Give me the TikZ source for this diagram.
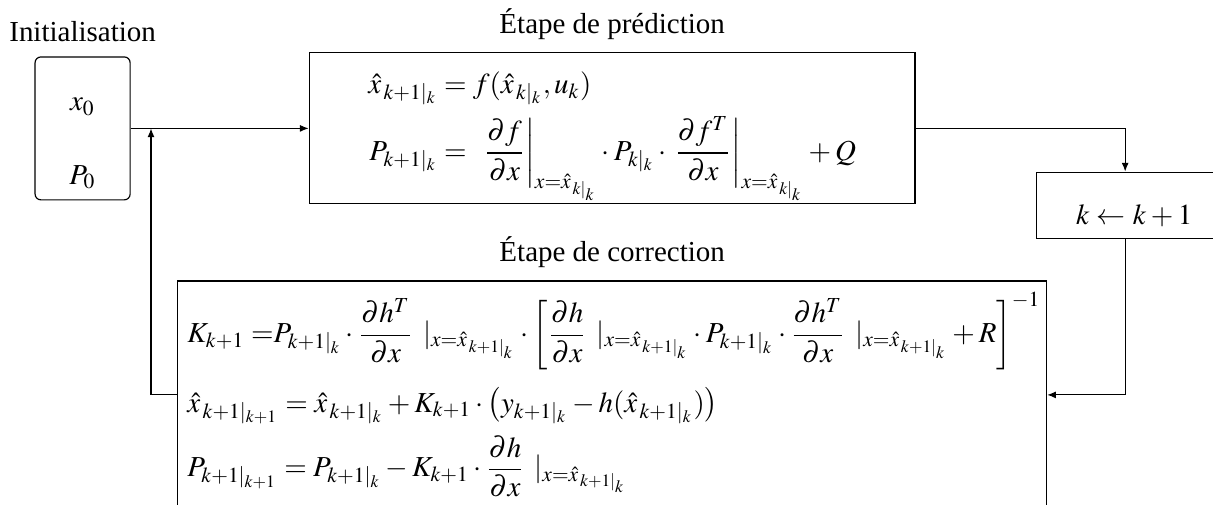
\documentclass[tikz,border=0pt]{standalone}
\usepackage{amsmath}
\usepackage{mathptmx}
\usepackage[no-math]{fontspec}
\setmainfont{Liberation Serif}
\usetikzlibrary{arrows.meta,positioning,calc}
\newcommand{\xest}[1]{\hat{x}_{\,#1}}
\tikzset{
  block/.style={draw, inner sep=3.33pt},
  arrow/.style={-{Latex[length=3pt,width=2.4pt]}}
}

\begin{document}
\begin{tikzpicture}
  \clip (0,0) rectangle (418.5pt,174.2pt);
  \node[block, rounded corners=2pt, minimum width=32.8pt, minimum height=49.3pt, align=center] (init) at (28.5pt,129.9pt)
    {\rule{0pt}{15pt}$x_0$\\[13.4pt]$P_0$};
  \node[block, right=61.4pt of init, minimum width=209pt, minimum height=52.1pt, text height=24.7pt, text depth=15.3pt] (pred)
    {$\begin{aligned}
      \xest{k+1|_k} &= f(\xest{k|_k},u_k)\\
      P_{k+1|_k} &= \ \left.\frac{\partial f}{\partial x}\right|_{x=\xest{k|_k}} \cdot P_{k|_k} \cdot \left.\frac{\partial f^T}{\partial x}\right|_{x=\xest{k|_k}} + Q
    \end{aligned}$};
  \node[block, below right=14.9pt and 41.4pt of pred.east, text width=46.4pt, inner xsep=7.5pt, minimum height=23pt, align=right] (incr)
    {\rule{0pt}{14pt}$k \leftarrow k+1$};
  \node[block, below=26.2pt of pred, text width=293.1pt, minimum height=78.6pt, align=left] (corr)
    {$\begin{aligned}
      &K_{k+1}\;{=}P_{k+1|_k} \cdot \frac{\partial h^T}{\partial x}\ |_{x=\xest{k+1|_k}} \cdot \left[\frac{\partial h}{\partial x}\ |_{x=\xest{k+1|_k}} \cdot P_{k+1|_k} \cdot \frac{\partial h^T}{\partial x}\ |_{x=\xest{k+1|_k}} + R\right]^{-1}\\[2pt]
      &\xest{k+1|_{k+1}} = \xest{k+1|_k} + K_{k+1} \cdot \left(y_{k+1|_k} - h(\xest{k+1|_k})\right)\\
      &P_{k+1|_{k+1}} = P_{k+1|_k} - K_{k+1} \cdot \frac{\partial h}{\partial x}\ |_{x=\xest{k+1|_k}}
    \end{aligned}$};
  % titles
  \node[above=1.5pt of init] {Initialisation};
  \node[above=1pt of pred] {Étape de prédiction};
  \node[above=1pt of corr] {Étape de correction};
  % loop
  \coordinate (join) at ($(init.east)+(7pt,0)$);
  \draw[arrow] (init) -- (pred);
  \draw[arrow] (pred) -| (incr);
  \draw[arrow] (incr) |- (corr);
  \draw[arrow] (corr.west) -| (join);
\end{tikzpicture}
\end{document}
